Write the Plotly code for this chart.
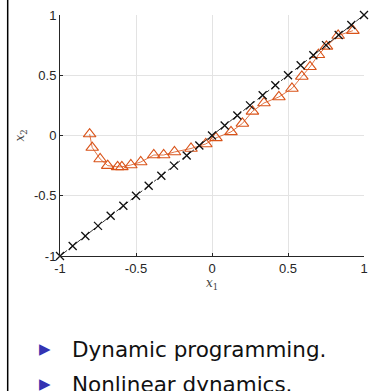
import numpy as np
import plotly.graph_objects as go

# reference (black crosses)
ref_x = [-1 + k / 12 for k in range(25)]
ref_y = list(ref_x)

# approximation (orange triangles)
apx_x = [-0.805, -0.788, -0.736, -0.686, -0.621, -0.593, -0.534, -0.469, -0.383, -0.318,
         -0.247, -0.138, -0.041, 0.026, 0.125, 0.20, 0.266, 0.342, 0.44, 0.526,
         0.591, 0.645, 0.70, 0.753, 0.83, 0.927]
apx_y = [0.012, -0.10, -0.195, -0.25, -0.26, -0.26, -0.245, -0.22, -0.162, -0.162,
         -0.137, -0.108, -0.07, -0.02, 0.03, 0.10, 0.20, 0.27, 0.32, 0.39,
         0.49, 0.57, 0.67, 0.74, 0.83, 0.87]

tick_vals = [-1, -0.5, 0, 0.5, 1]
tick_text = ["-1", "-0.5", "0", "0.5", "1"]
bullets = ["Dynamic programming.", "Nonlinear dynamics."]

L, R, T, B = 60, 6, 15, 135
W, H = 374, 391
pw, ph = W - L - R, H - T - B

def px2paper_x(px):
    return (px - L) / pw

def px2paper_y(py):
    return (H - B - py) / ph

fig = go.Figure()
fig.add_trace(go.Scatter(
    x=apx_x, y=apx_y, mode="lines+markers",
    line=dict(color="#D95319", width=0.8),
    marker=dict(symbol="triangle-up-open", size=11, color="#D95319", line=dict(width=1.1)),
    showlegend=False, cliponaxis=False))
fig.add_trace(go.Scatter(
    x=ref_x, y=ref_y, mode="lines+markers",
    line=dict(color="#333333", width=1, dash="dashdot"),
    marker=dict(symbol="x-thin", size=8, color="#111111", line=dict(width=1.3, color="#111111")),
    showlegend=False, cliponaxis=False))

axis_common = dict(
    range=[-1, 1], tickvals=tick_vals, ticktext=tick_text,
    showgrid=True, gridcolor="#e3e3e3", gridwidth=1,
    zeroline=False, showline=True, linecolor="#262626", linewidth=1,
    ticks="inside", ticklen=3, tickcolor="#262626",
    tickfont=dict(family="Liberation Sans, Arial", size=13, color="#262626"),
    ticklabeloverflow="allow",
    fixedrange=True,
)
fig.update_xaxes(**axis_common,
                 title=dict(text="<i>x</i><sub>1</sub>", standoff=4,
                            font=dict(family="DejaVu Serif", size=12, color="#444444")))
fig.update_yaxes(**axis_common,
                 title=dict(text="<i>x</i><sub>2</sub>", standoff=6,
                            font=dict(family="DejaVu Serif", size=12, color="#444444")))

# slide border
fig.add_shape(type="line", xref="paper", yref="paper",
              x0=px2paper_x(7), x1=px2paper_x(7), y0=px2paper_y(0), y1=px2paper_y(391),
              line=dict(color="black", width=1.5))

for i, txt in enumerate(bullets):
    yc = 349 + i * 35
    fig.add_annotation(xref="paper", yref="paper", x=px2paper_x(45), y=px2paper_y(yc),
                       text="▶", showarrow=False, xanchor="center", yanchor="middle",
                       font=dict(size=15, color="#3333B2", family="DejaVu Sans"))
    fig.add_annotation(xref="paper", yref="paper", x=px2paper_x(70), y=px2paper_y(yc),
                       text=txt, showarrow=False, xanchor="left", yanchor="middle",
                       font=dict(size=21.5, color="#111111", family="DejaVu Sans"))

fig.update_layout(
    width=W, height=H, margin=dict(l=L, r=R, t=T, b=B),
    paper_bgcolor="white", plot_bgcolor="white",
)
fig.write_html("out.html", config={"displayModeBar": False},
               post_script="document.body.style.margin='0';document.body.style.overflow='hidden';")
